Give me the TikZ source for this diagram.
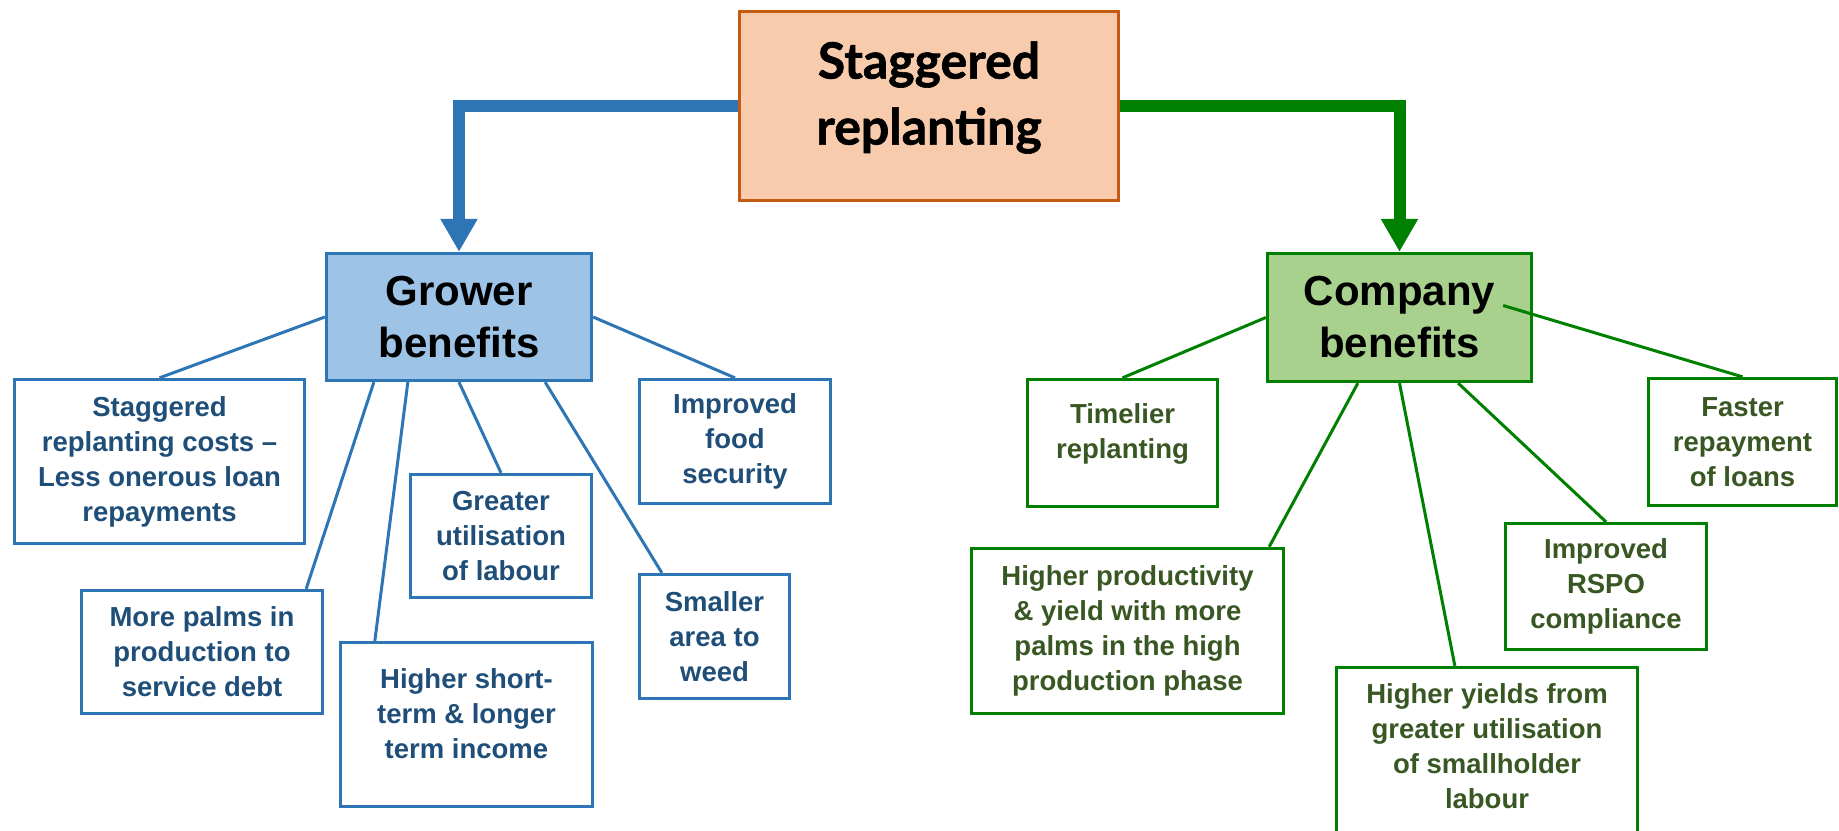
\documentclass[tikz,border=0pt]{standalone}
\usepackage{fontspec}
\setmainfont{Liberation Sans}
\newfontfamily\headfont{Lato}[BoldFeatures={FakeBold=1.2}]
\usetikzlibrary{arrows.meta}

\definecolor{blueline}{HTML}{2E75B6}
\definecolor{bluefill}{HTML}{9DC3E6}
\definecolor{bluetext}{HTML}{1F4E79}
\definecolor{greenline}{HTML}{008000}
\definecolor{greenfill}{HTML}{A9D18E}
\definecolor{greentext}{HTML}{385723}
\definecolor{orangeline}{HTML}{C55A11}
\definecolor{orangefill}{HTML}{F8CBAD}

\begin{document}
\begin{tikzpicture}[x=1pt,y=-1pt,
  box/.style={draw, line width=3.3pt, align=center, inner sep=0pt,
    font=\bfseries\fontsize{27.5}{35}\selectfont},
  growerbox/.style={box, draw=blueline, fill=white, text=bluetext},
  companybox/.style={box, draw=greenline, fill=white, text=greentext},
  head/.style={draw, line width=3.3pt, align=center, inner sep=0pt, text=black,
    font=\bfseries\fontsize{42}{52}\selectfont},
  link/.style={line width=3pt},
  trunk/.style={line width=12pt, -{Triangle[width=35pt,length=33pt]}}]

\useasboundingbox (0,0) rectangle (1839,830);

% root and the two branch heads
\node[head, draw=orangeline, fill=orangefill, minimum width=379pt, minimum height=189pt,
  font=\headfont\bfseries\fontsize{50}{66}\selectfont, text depth=26pt]
  (top) at (929,106) {Staggered\\replanting};
\node[head, draw=blueline, fill=bluefill, minimum width=265pt, minimum height=127pt]
  (grow) at (459,317) {Grower\\benefits};
\node[head, draw=greenline, fill=greenfill, minimum width=264pt, minimum height=128pt]
  (comp) at (1399.5,317.5) {Company\\benefits};

% grower benefits
\node[growerbox, minimum width=290pt, minimum height=164pt] (loan) at (159.5,461.5)
  {Staggered\\replanting costs –\\Less onerous loan\\repayments};
\node[growerbox, minimum width=191pt, minimum height=124pt] (food) at (735,441.5)
  {Improved\\food\\security};
\node[growerbox, minimum width=181pt, minimum height=123pt] (labour) at (501,536)
  {Greater\\utilisation\\of labour};
\node[growerbox, minimum width=241pt, minimum height=123pt] (palms) at (202,652)
  {More palms in\\production to\\service debt};
\node[growerbox, minimum width=252pt, minimum height=164pt, text depth=22pt] (income) at (466.5,724.5)
  {Higher short-\\term \& longer\\term income};
\node[growerbox, minimum width=150pt, minimum height=124pt] (weed) at (714.5,636.5)
  {Smaller\\area to\\weed};

% company benefits
\node[companybox, minimum width=190pt, minimum height=127pt, text depth=24pt] (timely) at (1122.5,443)
  {Timelier\\replanting};
\node[companybox, minimum width=188pt, minimum height=127pt] (repay) at (1742.5,442)
  {Faster\\repayment\\of loans};
\node[companybox, minimum width=312pt, minimum height=165pt] (yield) at (1127.5,631)
  {Higher productivity\\\& yield with more\\palms in the high\\production phase};
\node[companybox, minimum width=201pt, minimum height=126pt] (rspo) at (1606,586.5)
  {Improved\\RSPO\\compliance};
\node[companybox, minimum width=301pt, minimum height=165pt, text depth=7pt] (smallh) at (1487,750)
  {Higher yields from\\greater utilisation\\of smallholder\\labour};

% main arrows
\draw[trunk, blueline] (top.west) -| (grow.north);
\draw[trunk, greenline] (top.east) -| (comp.north);

% grower links
\draw[link, blueline] (grow.west) -- (loan.north);
\draw[link, blueline] (grow.east) -- (food.north);
\draw[link, blueline] ([xshift=49pt]grow.south west) -- ([xshift=-18pt]palms.north east);
\draw[link, blueline] ([xshift=83pt]grow.south west) -- ([xshift=36pt]income.north west);
\draw[link, blueline] (grow.south) -- (labour.north);
\draw[link, blueline] ([xshift=-48pt]grow.south east) -- ([xshift=24pt]weed.north west);

% company links
\draw[link, greenline] (comp.west) -- (timely.north);
\draw[link, greenline] ([xshift=-30pt,yshift=12pt]comp.east) -- (repay.north);
\draw[link, greenline] ([xshift=92pt]comp.south west) -- ([xshift=-16pt]yield.north east);
\draw[link, greenline] (comp.south) -- ([xshift=120pt]smallh.north west);
\draw[link, greenline] ([xshift=-75pt]comp.south east) -- (rspo.north);
\end{tikzpicture}
\end{document}
